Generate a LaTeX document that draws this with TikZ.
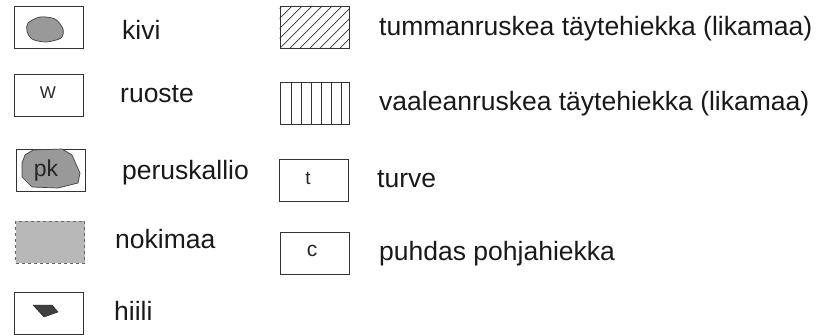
\documentclass[tikz,border=0pt]{standalone}
\usepackage{fontspec}
\setmainfont{Liberation Sans}
\begin{document}
\begin{tikzpicture}[x=1pt,y=-1pt]
        \tikzstyle{legbox}=[draw=black!80,line width=0.8pt,minimum width=69pt,minimum height=42pt,inner sep=0pt]
        \tikzstyle{legtext}=[anchor=base west,inner sep=0pt,font=\fontsize{26.5}{30}\selectfont,text=black!90]
        \tikzstyle{inlabel}=[inner sep=0pt,text=black!85]
        \tikzstyle{stone}=[draw=black!75,line width=0.7pt,fill=black!40]
        \useasboundingbox (0,0) rectangle (824,335);
       \begin{scope}
         % vasen sarake
         \node [legbox] (kivi) at (48.5,27) {};
         \node [legbox] (ruoste) at (48.5,95) {};
         \node [legbox] (kallio) at (50.5,170) {};
         \node [legbox,draw=black!60,dashed,fill=black!28] (noki) at (50,242) {};
         \node [legbox] (hiili) at (49,313) {};
         \filldraw[stone] plot[smooth cycle] coordinates {(28,23) (40,17) (55,19) (63,29) (61,38) (46,42) (32,39) (27,31)};
         \node [inlabel,font=\fontsize{17}{18}\selectfont] (wlab) at (48,93) {W};
         \filldraw[stone] (25,155) -- (33,150) -- (62,149) -- (72,155) -- (80,173) -- (78,183) -- (58,188) -- (32,187) -- (22,177) -- (22,163) -- cycle;
         \node [inlabel,font=\fontsize{23}{24}\selectfont] (pklab) at (46,171) {pk};
         \filldraw[draw=black!90,fill=black!75] (33,305) -- (52,305) -- (58,312) -- (44,317) -- cycle;
         \node [legtext] (kivitxt) at (122,39) {kivi};
         \node [legtext] (ruostetxt) at (120,102) {ruoste};
         \node [legtext] (kalliotxt) at (122,179) {peruskallio};
         \node [legtext] (nokitxt) at (115,248) {nokimaa};
         \node [legtext] (hiilitxt) at (114,320) {hiili};
        \end{scope}
       \begin{scope}
         % oikea sarake
         \node [legbox] (tumma) at (314.5,27) {};
         \node [legbox] (vaalea) at (314.5,103) {};
         \node [legbox] (turve) at (313.5,180) {};
         \node [legbox] (puhdas) at (315,253) {};
         \begin{scope}
           \clip (tumma.south west) rectangle (tumma.north east);
           \foreach \i in {-4,...,7}
             \draw[black!80,line width=0.7pt] (280+10*\i,48) -- (322+10*\i,6);
         \end{scope}
         \foreach \i in {1,...,6}
           \draw[black!80,line width=0.7pt] (281+10*\i,82) -- (281+10*\i,124);
         \node [inlabel,font=\fontsize{19}{20}\selectfont] (tlab) at (308,178) {t};
         \node [inlabel,font=\fontsize{21}{22}\selectfont] (clab) at (312,251) {c};
         \node [legtext] (tummatxt) at (379,35) {tummanruskea täytehiekka (likamaa)};
         \node [legtext] (vaaleatxt) at (379,110) {vaaleanruskea täytehiekka (likamaa)};
         \node [legtext] (turvetxt) at (377,187) {turve};
         \node [legtext] (puhdastxt) at (379,260) {puhdas pohjahiekka};
        \end{scope}
      \end{tikzpicture}
\end{document}
